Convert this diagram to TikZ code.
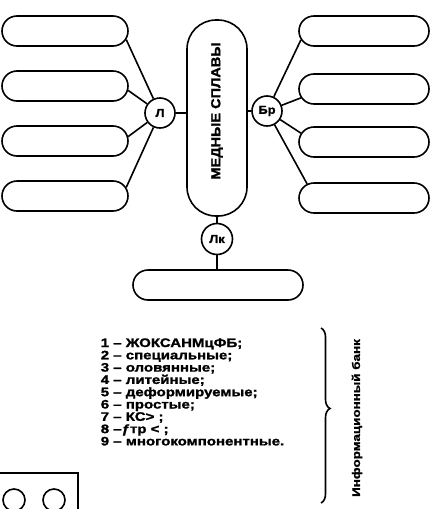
\documentclass[tikz,border=0pt]{standalone}
\usepackage{fontspec}
\setmainfont{Liberation Sans}
\newfontfamily\lgfont[FakeStretch=1.22,FakeBold=1.5]{Liberation Sans}
\newfontfamily\ttlfont[FakeStretch=1.12,FakeBold=1.5]{Liberation Sans}
\usetikzlibrary{shapes.misc,decorations.pathreplacing}
\begin{document}
\begin{tikzpicture}[x=1pt,y=1pt,
  line width=1.6pt,
  lbox/.style={draw,rounded rectangle,minimum width=126pt,minimum height=30pt,inner sep=0pt},
  rbox/.style={draw,rounded rectangle,minimum width=130pt,minimum height=30pt,inner sep=0pt},
  circ/.style={draw,circle,minimum size=30pt,inner sep=0pt,font=\ttlfont\bfseries\fontsize{11.5}{12}\selectfont},
  leg/.style={anchor=base west,inner sep=0pt,font=\lgfont\bfseries\fontsize{12.3}{13}\selectfont}]
\useasboundingbox (0,0) rectangle (431,-509);
% central box
\node[draw,rounded corners=29pt,minimum width=60pt,minimum height=196pt,inner sep=0pt] (main) at (217,-118) {};
\node[rotate=90,inner sep=0pt,font=\ttlfont\bfseries\fontsize{13}{14}\selectfont] (mtext) at (217,-111) {МЕДНЫЕ СПЛАВЫ};
% circles
\node[circ] (L) at (160,-113) {Л};
\node[circ] (Br) at (267,-111) {Бр};
\node[circ,minimum size=31pt] (Lk) at (217,-239) {Лк};
% left boxes
\node[lbox] (a1) at (65,-31) {};
\node[lbox] (a2) at (65,-86) {};
\node[lbox] (a3) at (65,-141) {};
\node[lbox] (a4) at (65,-196) {};
% right boxes
\node[rbox] (b1) at (364,-31) {};
\node[rbox] (b2) at (364,-89) {};
\node[rbox] (b3) at (364,-142) {};
\node[rbox] (b4) at (364,-198) {};
% bottom box
\node[draw,rounded rectangle,minimum width=170pt,minimum height=30pt,inner sep=0pt] (bot) at (218,-285) {};
% connectors
\draw (L.east) -- (L.east -| main.west);
\draw (Br.west) -- (Br.west -| main.east);
\draw (main.south) -- (Lk.north);
\draw (Lk.south) -- (Lk.south |- bot.north);
\draw (L) -- (a1.-8);
\draw (L) -- (a2.-4);
\draw (L) -- (a3.4);
\draw (L) -- (a4.8);
\draw (Br) -- (b1.188);
\draw (Br) -- (b2.188);
\draw (Br) -- (b3.172);
\draw (Br) -- (b4.166);
% legend
\foreach \t [count=\i] in {{1 – ЖОКСАНМцФБ;},{2 – специальные;},{3 – оловянные;},{4 – литейные;},{5 – деформируемые;},{6 – простые;},{7 – КС> ;},{8 –ƒтр < ;},{9 – многокомпонентные.}}
  \node[leg] (l\i) at (100,{-347-12.3*(\i-1)}) {\t};
% brace
\coordinate (bt) at (321,-328);
\coordinate (bb) at (321,-503);
\draw[line width=1.6pt,decorate,decoration={brace,amplitude=9pt,aspect=0.46}] (bt) -- (bb);
\node[rotate=90,inner sep=0pt,font=\lgfont\bfseries\fontsize{11}{12}\selectfont] (bank) at (357,-418) {Информационный банк};
% partial shape at bottom left
\begin{scope}
\clip (0,0) rectangle (431,-509);
\draw (-5,-473) -- (78,-473) -- (78,-515);
\draw (14,-500) circle (11);
\draw (54,-500) circle (11);
\end{scope}
\end{tikzpicture}
\end{document}
